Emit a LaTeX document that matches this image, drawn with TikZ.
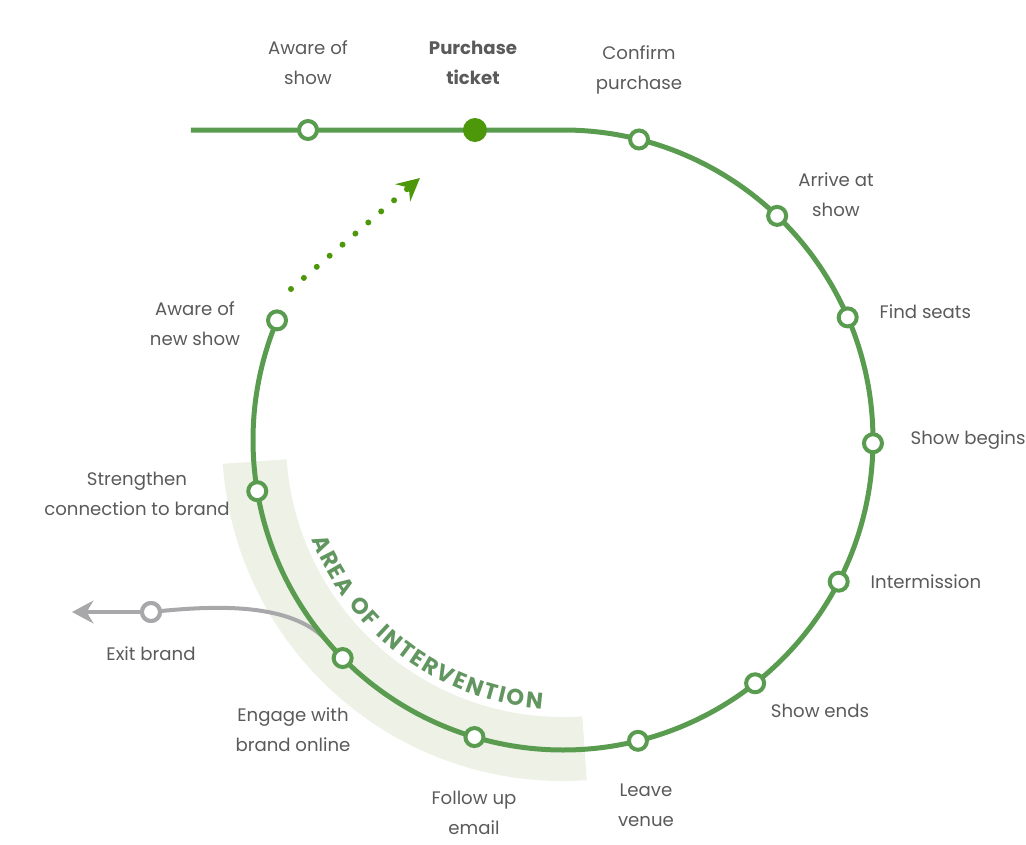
\documentclass[tikz,border=0pt]{standalone}
\usepackage{fontspec}
\setmainfont{Poppins}
\usetikzlibrary{calc,arrows.meta,decorations.text}
\definecolor{trackgreen}{RGB}{89,156,80}
\definecolor{tipgreen}{RGB}{76,152,10}
\definecolor{areagreen}{RGB}{98,150,96}
\definecolor{bandgreen}{RGB}{237,241,230}
\definecolor{labelgray}{RGB}{90,90,90}
\definecolor{exitgray}{RGB}{168,168,171}
\def\bandarc(#1:#2:#3:#4){\fill[bandgreen] (#1:#3) arc[start angle=#1, end angle=#2, radius=#3] -- (#2:#4) arc[start angle=#2, end angle=#1, radius=#4] -- cycle;}
\newcommand\areafont{\fontsize{17pt}{19pt}\selectfont\bfseries}
\tikzset{
  stopdot/.style={circle, draw=trackgreen, fill=white, line width=3pt, minimum size=13.5pt, inner sep=0pt},
  buydot/.style={circle, fill=tipgreen, minimum size=18pt, inner sep=0pt},
  exitdot/.style={circle, draw=exitgray, fill=white, line width=3pt, minimum size=13.5pt, inner sep=0pt},
  lbl/.style={align=center, text=labelgray, font=\fontsize{13.6pt}{22.5pt}\selectfont},
  track/.style={draw=trackgreen, line width=3.75pt},
  exitline/.style={draw=exitgray, line width=3pt},
}

\begin{document}
\begin{tikzpicture}[x=0.75pt, y=0.75pt]
			%%%%% START %%%%%
			\useasboundingbox (-563,-404) rectangle (463,440);
			
			\bandarc(184:274:277:341)
			
			\path[decorate, decoration={text along path, text align=fit to path, text color=areagreen,
				text={|\areafont|AREA OF INTERVENTION}}] (201.5:270) arc[start angle=201.5, end angle=265.5, radius=270];
			
			\node[exitdot] (exit) at (-412,-172) {};
			\coordinate (exitstart) at (221.8:310);
			\coordinate (exittip) at (-491,-172);
			\draw[exitline] (exitstart) .. controls (-262,-166) and (-330,-164) .. (exit);
			\draw[exitline, -{Stealth[length=16pt, width=17pt, inset=5pt]}] (exit) -- (exittip);
			\node[exitdot] at (exit) {};
			
			\coordinate (dotstart) at (-272,151);
			\coordinate (dottip) at (-143,262);
			\draw[tipgreen, line width=4.5pt, line cap=round, dash pattern=on 0pt off 12.75pt, -{Stealth[length=17pt, width=17pt, inset=6pt]}] (dotstart) -- (dottip);
			
			\draw[track] (-372,310) -- (0,310) arc[start angle=90, end angle=-202.7, radius=310];
			
			\node[stopdot] (awareshow) at (-255,310) {};
			\node[buydot] (purchase) at (-88,310) {};
			\node[stopdot] (confirm) at (75.8:310) {};
			\node[stopdot] (arrive) at (46.3:310) {};
			\node[stopdot] (seats) at (23.3:310) {};
			\node[stopdot] (begins) at (-0.6:310) {};
			\node[stopdot] (interm) at (-27.2:310) {};
			\node[stopdot] (ends) at (-51.7:310) {};
			\node[stopdot] (leave) at (-76:310) {};
			\node[stopdot] (follow) at (-106.6:310) {};
			\node[stopdot] (engage) at (-135.3:310) {};
			\node[stopdot] (strengthen) at (-170.5:310) {};
			\node[stopdot] (awarenew) at (157.3:310) {};
			
			\node[lbl] (awareshowtext) at (-255,377) {Aware of\\show};
			\node[lbl, font=\fontsize{13.6pt}{22.5pt}\selectfont\bfseries] (purchasetext) at (-90,377) {Purchase\\ticket};
			\node[lbl] (confirmtext) at (76,370) {Confirm\\purchase};
			\node[lbl] (arrivetext) at (273,245) {Arrive at\\show};
			\node[lbl, anchor=west] (seatstext) at (312,128) {Find seats};
			\node[lbl, anchor=west] (beginstext) at (343,0) {Show begins};
			\node[lbl, anchor=west] (intermtext) at (303,-142) {Intermission};
			\node[lbl] (endstext) at (257,-271) {Show ends};
			\node[lbl] (leavetext) at (83,-365) {Leave\\venue};
			\node[lbl] (followtext) at (-89,-373) {Follow up\\email};
			\node[lbl] (engagetext) at (-270,-290) {Engage with\\brand online};
			\node[lbl] (exittext) at (-412,-214) {Exit brand};
			\node[lbl] (strengthentext) at (-426,-54) {Strengthen\\connection to brand};
			\node[lbl] (awarenewtext) at (-368,116) {Aware of\\new show};
			
			%%%%% END %%%%%
\end{tikzpicture}
\end{document}
